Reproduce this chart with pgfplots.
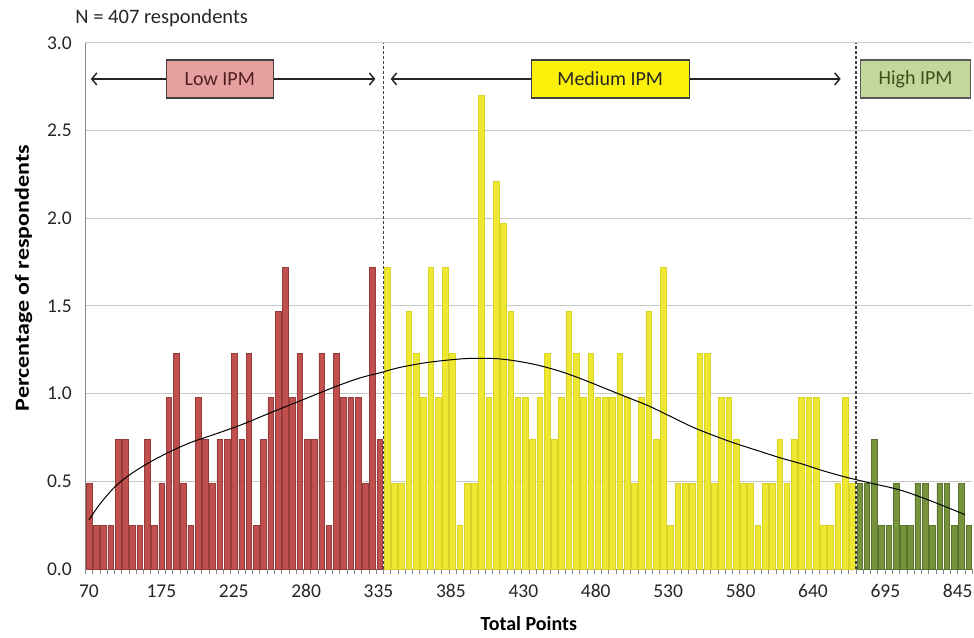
\documentclass[border=0pt]{standalone}
\usepackage{fontspec}
\setmainfont{Carlito}
\usepackage{pgfplots}
\usepackage{pgfplotstable}
\pgfplotsset{compat=1.18}
\usetikzlibrary{arrows.meta}

\definecolor{barred}{RGB}{192,80,77}
\definecolor{barredline}{RGB}{150,60,58}
\definecolor{baryel}{RGB}{238,232,50}
\definecolor{baryelline}{RGB}{218,212,40}
\definecolor{bargrn}{RGB}{119,147,60}
\definecolor{bargrnline}{RGB}{90,115,45}
\definecolor{boxred}{RGB}{230,160,160}
\definecolor{boxyel}{RGB}{250,240,10}
\definecolor{boxgrn}{RGB}{196,215,155}
\definecolor{gridc}{RGB}{200,200,200}
\definecolor{axisc}{RGB}{134,134,134}

\pgfplotstableread{
x y
0 0.49
1 0.25
2 0.25
3 0.25
4 0.74
5 0.74
6 0.25
7 0.25
8 0.74
9 0.25
10 0.49
11 0.98
12 1.23
13 0.49
14 0.25
15 0.98
16 0.74
17 0.49
18 0.74
19 0.74
20 1.23
21 0.74
22 1.23
23 0.25
24 0.74
25 0.98
26 1.47
27 1.72
28 0.98
29 1.23
30 0.74
31 0.74
32 1.23
33 0.25
34 1.23
35 0.98
36 0.98
37 0.98
38 0.49
39 1.72
40 0.74
}\lowdata

\pgfplotstableread{
x y
41 1.72
42 0.49
43 0.49
44 1.47
45 1.23
46 0.98
47 1.72
48 0.98
49 1.72
50 1.23
51 0.25
52 0.49
53 0.49
54 2.70
55 0.98
56 2.21
57 1.97
58 1.47
59 0.98
60 0.98
61 0.74
62 0.98
63 1.23
64 0.74
65 0.98
66 1.47
67 1.23
68 0.98
69 1.23
70 0.98
71 0.98
72 0.98
73 1.23
74 0.98
75 0.49
76 0.98
77 1.47
78 0.74
79 1.72
80 0.25
81 0.49
82 0.49
83 0.49
84 1.23
85 1.23
86 0.49
87 0.98
88 0.98
89 0.74
90 0.49
91 0.49
92 0.25
93 0.49
94 0.49
95 0.74
96 0.49
97 0.74
98 0.98
99 0.98
100 0.98
101 0.25
102 0.25
103 0.49
104 0.98
105 0.49
}\meddata

\pgfplotstableread{
x y
106 0.49
107 0.49
108 0.74
109 0.25
110 0.25
111 0.49
112 0.25
113 0.25
114 0.49
115 0.49
116 0.25
117 0.49
118 0.49
119 0.25
120 0.49
121 0.25
}\highdata

\begin{document}
\begin{tikzpicture}
\begin{axis}[
  scale only axis,
  width=887pt, height=526pt,
  xmin=-0.5, xmax=121.5, ymin=0, ymax=3,
  clip=false,
  axis x line*=bottom, axis y line*=left,
  axis line style={axisc, line width=1pt, -},
  /pgf/number format/assume math mode=true,
  ytick={0,0.5,1,1.5,2,2.5,3},
  yticklabel style={/pgf/number format/fixed, /pgf/number format/fixed zerofill, /pgf/number format/precision=1, xshift=-10pt},
  ymajorgrids, grid style={gridc, line width=1pt},
  xtick={0,9.96,19.92,29.88,39.83,49.79,59.75,69.71,79.67,89.63,99.58,109.54,119.5},
  xticklabels={70,175,225,280,335,385,430,480,530,580,640,695,845},
  minor xtick={-0.5,0.5,...,121.5},
  tick align=outside,
  major tick length=0pt,
  minor tick length=5pt,
  minor x tick style={axisc, line width=0.6pt},
  xticklabel style={yshift=-12pt},
  tick label style={font=\fontsize{19.5}{24}\selectfont, text=black!85},
  xlabel={\textbf{Total Points}},
  ylabel={\scalebox{1.2}[1]{\textbf{Percentage of respondents}}},
  label style={font=\fontsize{20}{24}\selectfont, text=black},
  xlabel style={yshift=-12pt},
  ylabel style={yshift=8pt, xshift=28pt},
]
\addplot[ybar, bar width=0.78, bar shift=0pt, fill=barred, draw=barredline, line width=0.5pt] table {\lowdata};
\addplot[ybar, bar width=0.78, bar shift=0pt, fill=baryel, draw=baryelline, line width=0.5pt] table {\meddata};
\addplot[ybar, bar width=0.78, bar shift=0pt, fill=bargrn, draw=bargrnline, line width=0.5pt] table {\highdata};
\addplot[smooth, black, line width=1pt, no marks] coordinates {
(0,0.28) (1.5,0.37) (3.6,0.47) (5.7,0.54) (8.4,0.61) (11.2,0.67) (13.9,0.72)
(16.7,0.76) (20.8,0.82) (24.9,0.89) (29.1,0.96) (33.9,1.04) (37.3,1.09)
(40.1,1.12) (42.8,1.15) (46.9,1.18) (51.8,1.20) (55.9,1.20) (59,1.185)
(62,1.16) (65,1.125) (68,1.08) (71,1.03) (74,0.98) (77,0.93) (80,0.87)
(83,0.81) (86,0.76) (89,0.715) (92,0.675) (95,0.635) (98,0.60) (101,0.56)
(104,0.525) (107.5,0.49) (111.6,0.45) (115.7,0.39) (120.5,0.31)
};
\draw[black!75, line width=1.1pt, dash pattern=on 3pt off 2pt] (axis cs:40.5,0) -- (axis cs:40.5,3);
\draw[black!75, line width=1.1pt, dash pattern=on 3pt off 2pt] (axis cs:105.5,0) -- (axis cs:105.5,3);
\draw[{Straight Barb[length=5pt,width=12pt]}-{Straight Barb[length=5pt,width=12pt]}, line width=1.5pt, black!85] (axis cs:0.26,2.795) -- (axis cs:39.4,2.795);
\draw[{Straight Barb[length=5pt,width=12pt]}-{Straight Barb[length=5pt,width=12pt]}, line width=1.5pt, black!85] (axis cs:41.5,2.795) -- (axis cs:103.4,2.795);
\node[draw=black!75, line width=1.2pt, fill=boxred, minimum width=107pt, minimum height=38pt, inner sep=0pt, font=\fontsize{20}{24}\selectfont, text={rgb,255:red,80;green,30;blue,30}] at (axis cs:18,2.795) {Low IPM};
\node[draw=black!75, line width=1.2pt, fill=boxyel, minimum width=158pt, minimum height=38pt, inner sep=0pt, font=\fontsize{20}{24}\selectfont, text=black!85] at (axis cs:71.7,2.795) {Medium IPM};
\node[draw=black!65, line width=1.2pt, fill=boxgrn, minimum width=110pt, minimum height=38pt, inner sep=0pt, font=\fontsize{20}{24}\selectfont, text={rgb,255:red,60;green,80;blue,30}] at (axis cs:113.7,2.795) {High IPM};
\node[anchor=base west, font=\fontsize{20.5}{24}\selectfont, text=black!85, inner sep=0pt] at ([xshift=-10pt, yshift=19pt]rel axis cs:0,1) {N = 407 respondents};
\coordinate (bl) at (rel axis cs:0,0);
\coordinate (tr) at (rel axis cs:1,1);
\end{axis}
\pgfresetboundingbox
\path[use as bounding box] ([xshift=-85.3pt, yshift=-68pt]bl) rectangle ([xshift=1.7pt, yshift=43pt]tr);
\end{tikzpicture}
\end{document}
